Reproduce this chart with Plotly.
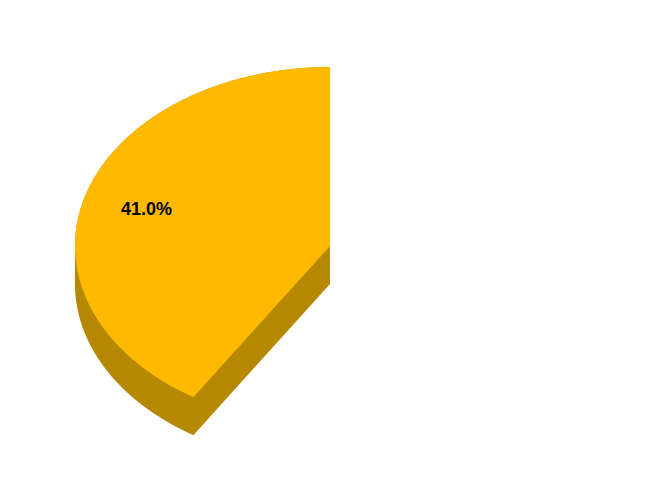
import numpy as np
import plotly.graph_objects as go

# slice data (only the first slice is coloured in the source chart)
labels = ["Share", "Rest"]
values = [41.0, 59.0]
top_colors = ["#FFBA00", "rgba(0,0,0,0)"]
side_colors = ["#B58800", "rgba(0,0,0,0)"]

tilt = 179 / 255   # vertical squash of the pie
depth = 0.149      # thickness of the 3d pie
label_r = 0.75


def arc(a0, a1, n=120):
    t = np.radians(np.linspace(a0, a1, n))
    return -np.sin(t), np.cos(t) * tilt


fig = go.Figure()
total = sum(values)
start = 0.0
for lab, val, ctop, cside in zip(labels, values, top_colors, side_colors):
    end = start + 360 * val / total
    # extruded outline: top rim to the widest point, then the lower rim to the end
    ax, ay = arc(start, min(end, 90))
    bx, by = arc(max(start, 90), end)
    sx = np.concatenate([[0], ax, bx, [0, 0]])
    sy = np.concatenate([[0], ay, by - depth, [-depth, 0]])
    fig.add_trace(go.Scatter(x=sx, y=sy, fill="toself", mode="none",
                             fillcolor=cside, hoverinfo="skip", showlegend=False))
    # top face
    tx, ty = arc(start, end)
    fig.add_trace(go.Scatter(x=np.concatenate([[0], tx, [0]]),
                             y=np.concatenate([[0], ty, [0]]),
                             fill="toself", mode="none", fillcolor=ctop,
                             name=lab, hoverinfo="skip", showlegend=False))
    if ctop != "rgba(0,0,0,0)":
        mid = np.radians((start + end) / 2)
        fig.add_annotation(x=-np.sin(mid) * label_r, y=np.cos(mid) * tilt * label_r,
                           text=f"<b>{val / total * 100:.1f}%</b>", showarrow=False,
                           font=dict(family="Liberation Sans, Arial", size=18, color="black"))
    start = end

fig.update_layout(
    width=650, height=489,
    margin=dict(l=0, r=0, t=0, b=0),
    paper_bgcolor="white", plot_bgcolor="white",
    xaxis=dict(range=[-322 / 255, 328 / 255], visible=False, fixedrange=True),
    yaxis=dict(range=[-251 / 255, 238 / 255], visible=False, fixedrange=True),
)
fig.write_html("out.html")
